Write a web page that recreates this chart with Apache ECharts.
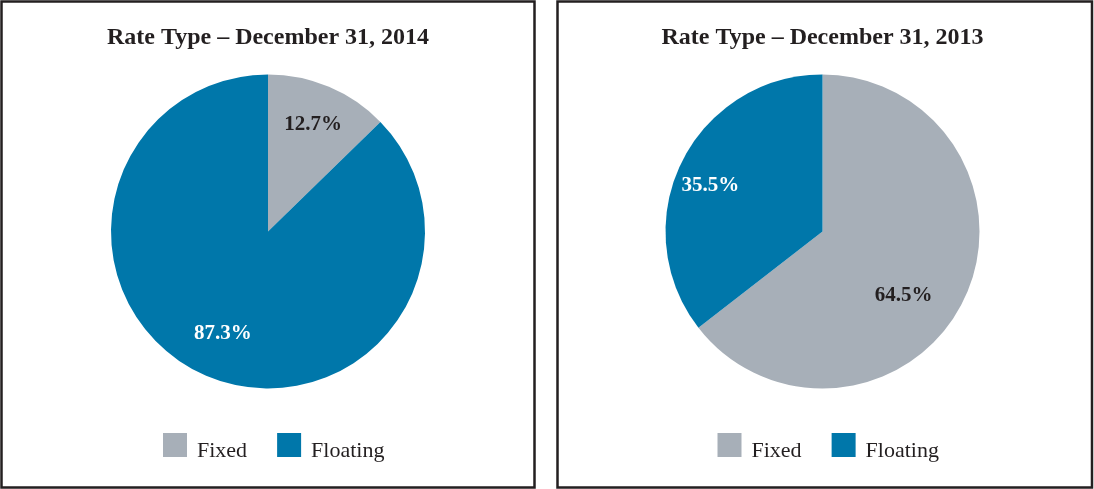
<!DOCTYPE html>
<html><head><meta charset="utf-8">
<script src="https://cdn.jsdelivr.net/npm/echarts@6/dist/echarts.min.js"></script>
<style>html,body{margin:0;padding:0;background:#fff}#c{width:1094px;height:489px}</style>
</head><body><div id="c"></div>
<script>
const titles = ['Rate Type \u2013 December 31, 2014', 'Rate Type \u2013 December 31, 2013'];
const categories = ['Fixed', 'Floating'];
const values2014 = [12.7, 87.3];
const values2013 = [64.5, 35.5];
const colors = ['#A7AFB8', '#0077AA'];
const labelColors = ['#231F20', '#FFFFFF'];

const serif = '"Liberation Serif", "Times New Roman", serif';
const centers = [[268, 231.5], [822.5, 231.5]];
const R = 157;
const allValues = [values2014, values2013];
// small label nudges (style only)
const labelNudges = [[[0, 0], [0, -5]], [[-23, 13], [-8, 5]]];

const series = [];
allValues.forEach((vals, i) => {
  series.push({
    type: 'pie', name: 'p' + i, center: centers[i], radius: [0, R],
    startAngle: 90, clockwise: true, silent: true, animation: false,
    label: { show: false }, labelLine: { show: false },
    itemStyle: { borderWidth: 0 },
    data: categories.map((c, k) => ({ name: c, value: vals[k], itemStyle: { color: colors[k] } }))
  });
});
allValues.forEach((vals, i) => {
  series.push({
    type: 'pie', name: 'l' + i, center: centers[i], radius: [0, R * 1.44],
    startAngle: 90, clockwise: true, silent: true, animation: false,
    legendHoverLink: false,
    label: { show: true, position: 'inside', fontFamily: serif, fontWeight: 'bold', fontSize: 21,
      formatter: p => p.value.toFixed(1) + '%' },
    labelLine: { show: false },
    itemStyle: { color: 'rgba(0,0,0,0)', borderWidth: 0 },
    data: categories.map((c, k) => ({ name: c, value: vals[k], label: { color: labelColors[k], offset: labelNudges[i][k] } }))
  });
});

const chart = echarts.init(document.getElementById('c'), null, { renderer: 'canvas' });
chart.setOption({
  backgroundColor: '#fff',
  title: titles.map((t, i) => ({
    text: t, left: centers[i][0] - 5, top: 21, textAlign: 'center',
    textStyle: { fontFamily: serif, fontWeight: 'bold', fontSize: 24, color: '#231F20' }
  })),
  legend: [0, 1].map(i => ({
    data: categories.map((c, k) => ({ name: c, itemStyle: { color: colors[k] } })),
    left: centers[i][0] - 110, top: 428, itemWidth: 24, itemHeight: 24, itemGap: 30,
    icon: 'rect', selectedMode: false,
    formatter: '{t|{name}}',
    textStyle: { fontFamily: serif, fontSize: 22, color: '#231F20',
      rich: { t: { fontFamily: serif, fontSize: 22, color: '#231F20', padding: [13, 0, 0, 5] } } }
  })),
  graphic: [
    { type: 'rect', shape: { x: 1.5, y: 1.5, width: 533, height: 486 }, style: { fill: 'none', stroke: '#231F20', lineWidth: 2.5 }, silent: true },
    { type: 'rect', shape: { x: 557.5, y: 1.5, width: 534.5, height: 486 }, style: { fill: 'none', stroke: '#231F20', lineWidth: 2.5 }, silent: true }
  ],
  series: series
});
</script></body></html>
